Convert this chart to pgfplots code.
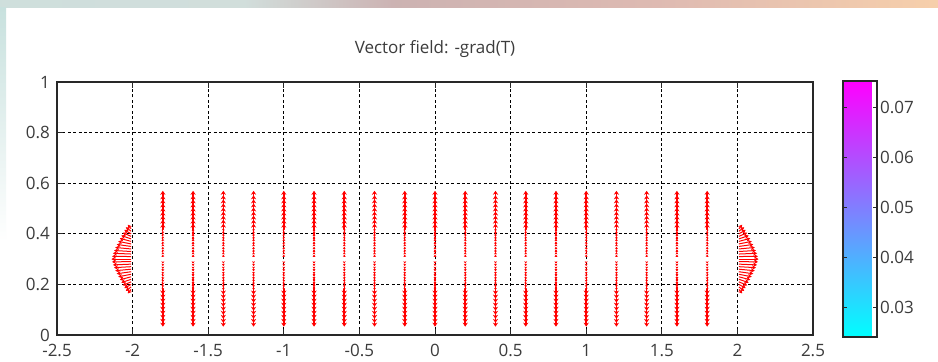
\documentclass[border=0pt]{standalone}
\usepackage{pgfplots}
\pgfplotsset{compat=1.18}
\usepackage{pgfplotstable}
\usepackage{fontspec}
\setmainfont{Open Sans}
\usetikzlibrary{arrows.meta}
\definecolor{txt}{RGB}{60,60,60}
\definecolor{frame}{RGB}{40,40,40}
\definecolor{vec}{RGB}{255,0,0}
\pgfdeclarehorizontalshading{topstrip}{100bp}{rgb(0bp)=(0.79,0.88,0.87); rgb(38bp)=(0.82,0.87,0.86); rgb(46bp)=(0.80,0.70,0.70); rgb(60bp)=(0.87,0.73,0.70); rgb(80bp)=(1,0.84,0.66); rgb(90bp)=(0.99,0.82,0.68); rgb(100bp)=(0.94,0.76,0.69)}

% inner (short) arrows of each column
\pgfplotstableread{
y v
0.310 0.008
0.320 0.008
0.330 0.009
0.340 0.009
0.350 0.010
0.360 0.010
0.370 0.011
0.380 0.011
0.390 0.012
0.400 0.012
0.410 0.013
0.290 -0.008
0.280 -0.008
0.270 -0.009
0.260 -0.009
0.250 -0.010
0.240 -0.010
0.230 -0.011
0.220 -0.011
0.210 -0.012
0.200 -0.012
0.190 -0.013
}\colinner

% outer (long) arrows of each column
\pgfplotstableread{
y v
0.420 0.020
0.435 0.021
0.450 0.022
0.465 0.023
0.480 0.024
0.495 0.025
0.510 0.026
0.525 0.027
0.540 0.030
0.180 -0.020
0.165 -0.021
0.150 -0.022
0.135 -0.023
0.120 -0.024
0.105 -0.025
0.090 -0.026
0.075 -0.027
0.060 -0.027
}\colouter

\pgfplotstableread{
y u v
0.180 -0.022 -0.016
0.19 -0.035 -0.016
0.20 -0.045 -0.015
0.21 -0.055 -0.014
0.22 -0.065 -0.013
0.23 -0.075 -0.012
0.24 -0.085 -0.010
0.25 -0.095 -0.008
0.26 -0.105 -0.006
0.27 -0.113 -0.004
0.28 -0.120 -0.003
0.29 -0.126 -0.001
0.30 -0.130 0
0.31 -0.126 0.001
0.32 -0.120 0.003
0.33 -0.113 0.004
0.34 -0.105 0.006
0.35 -0.095 0.008
0.36 -0.085 0.010
0.37 -0.075 0.012
0.38 -0.065 0.013
0.39 -0.055 0.014
0.40 -0.045 0.015
0.41 -0.035 0.016
0.420 -0.022 0.016
}\leftfan

\pgfplotstableread{
y u v
0.180 0.022 -0.016
0.19 0.035 -0.016
0.20 0.045 -0.015
0.21 0.055 -0.014
0.22 0.065 -0.013
0.23 0.075 -0.012
0.24 0.085 -0.010
0.25 0.095 -0.008
0.26 0.105 -0.006
0.27 0.113 -0.004
0.28 0.120 -0.003
0.29 0.126 -0.001
0.30 0.130 0
0.31 0.126 0.001
0.32 0.120 0.003
0.33 0.113 0.004
0.34 0.105 0.006
0.35 0.095 0.008
0.36 0.085 0.010
0.37 0.075 0.012
0.38 0.065 0.013
0.39 0.055 0.014
0.40 0.045 0.015
0.41 0.035 0.016
0.420 0.022 0.016
}\rightfan

\begin{document}
\begin{tikzpicture}[font=\fontsize{8.5}{10}\selectfont]
\useasboundingbox (0,0) rectangle (469pt,181pt);
\fill[white] (0,0) rectangle (469pt,181pt);
\shade[shading=topstrip] (0,177pt) rectangle (469pt,181pt);
\shade[top color={rgb,255:red,200;green,225;blue,222}, bottom color=white] (0,60pt) rectangle (3pt,177pt);
\begin{axis}[
  at={(28.5pt,13.5pt)}, anchor=south west,
  scale only axis, width=378pt, height=126.5pt,
  xmin=-2.5, xmax=2.5, ymin=0, ymax=1,
  xtick={-2.5,-2,...,2.5}, ytick={0,0.2,...,1},
  /pgf/number format/assume math mode=true,
  tick label style={text=txt, font=\fontsize{8.5}{10}\selectfont},
  xticklabel style={yshift=-1pt},
  tick align=inside, tick style={frame, line width=0.5pt},
  major tick length=3pt,
  axis line style={frame, line width=0.8pt},
  grid=major,
  major grid style={black, line width=0.5pt, dash pattern=on 1.5pt off 1.2pt},
  title={Vector field: -grad(T)},
  title style={at={(0.5,1)}, anchor=base, yshift=8pt, text=txt, font=\fontsize{8.5}{10}\selectfont},
  colormap={cool}{rgb255=(0,255,255) rgb255=(255,0,255)},
  point meta min=0.0242, point meta max=0.0752,
  colorbar,
  colorbar style={
    at={(parent axis.north east)}, anchor=north west,
    xshift=6.5pt, yshift=0.5pt,
    width=17pt, height=128pt,
    scaled y ticks=false,
    ytick={0.03,0.04,0.05,0.06,0.07},
    ytick pos=both, yticklabel pos=right,
    tick align=inside, major tick length=2pt,
    tick style={frame, line width=0.5pt},
    axis line style={frame, line width=0.8pt},
    yticklabel style={text=txt, font=\fontsize{8.5}{10}\selectfont,
      /pgf/number format/assume math mode=true,
      /pgf/number format/fixed, /pgf/number format/fixed zerofill,
      /pgf/number format/precision=2, xshift=-2pt},
  },
]
\pgfplotsinvokeforeach{-1.8,-1.6,-1.4,-1.2,-1.0,-0.8,-0.6,-0.4,-0.2,0,0.2,0.4,0.6,0.8,1.0,1.2,1.4,1.6,1.8}{
  \addplot[vec, line width=0.6pt, -{Stealth[length=1.2pt,width=1.4pt]},
    quiver={u=0, v=\thisrow{v}}] table[x expr=#1, y=y] {\colinner};
  \addplot[vec, line width=0.8pt, -{Stealth[length=2pt,width=2.6pt]},
    quiver={u=0, v=\thisrow{v}}] table[x expr=#1, y=y] {\colouter};
}
\addplot[vec, line width=0.5pt, -{Stealth[length=2pt,width=2.2pt]},
  quiver={u=\thisrow{u}, v=\thisrow{v}}] table[x expr=-2.01, y=y] {\leftfan};
\addplot[vec, line width=0.5pt, -{Stealth[length=2pt,width=2.2pt]},
  quiver={u=\thisrow{u}, v=\thisrow{v}}] table[x expr=2.01, y=y] {\rightfan};
\end{axis}
\end{tikzpicture}
\end{document}
